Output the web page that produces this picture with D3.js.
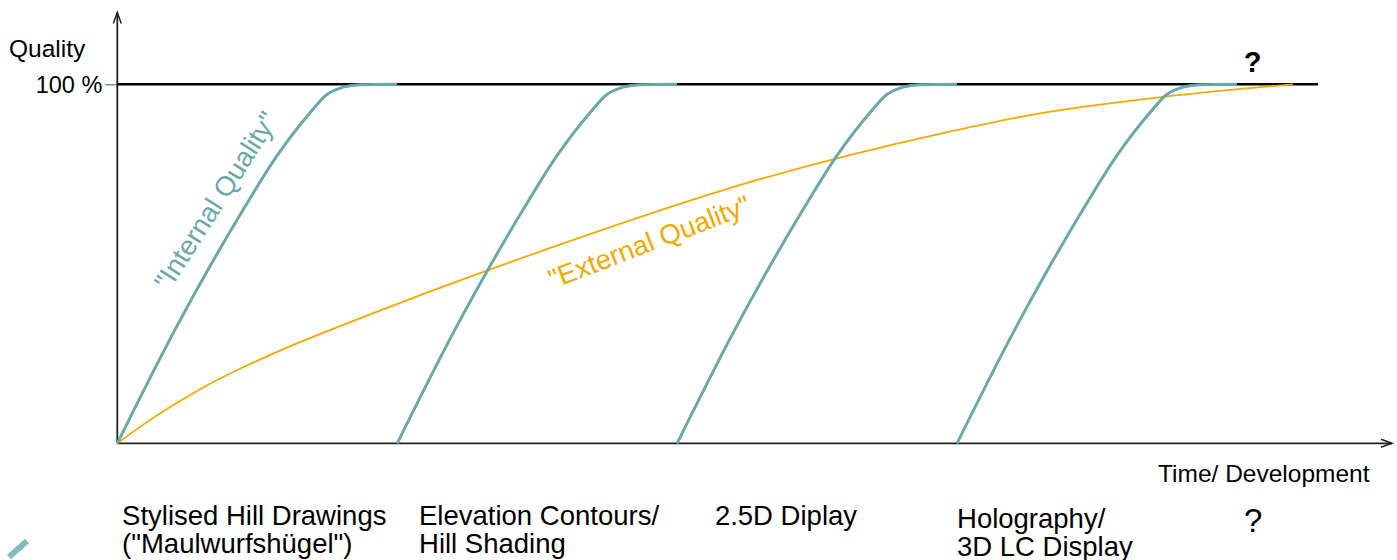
<!DOCTYPE html>
<html>
<head>
<meta charset="utf-8">
<script src="https://cdn.jsdelivr.net/npm/d3@7"></script>
<style>
	body { margin: 0; background: #fff; }
	text { font-family: "Liberation Sans", Arial, sans-serif; }
</style>
</head>
<body>
<div id="chart"></div>
<script>
var width = 1397; // size of the page
var height = 560;

// "internal quality" of each map generation, [time, quality %]
var internal1 = [[0, 0], [0.212, 32.5], [0.331, 49.3], [0.45, 65.1], [0.569, 79.9], [0.688, 92.0], [0.748, 97.1], [0.807, 99.2], [0.867, 99.9], [1.0, 100]];
var internal2 = [[1, 0], [1.212, 32.5], [1.331, 49.3], [1.45, 65.1], [1.569, 79.9], [1.688, 92.0], [1.748, 97.1], [1.807, 99.2], [1.867, 99.9], [2.0, 100]];
var internal3 = [[2, 0], [2.212, 32.5], [2.331, 49.3], [2.45, 65.1], [2.569, 79.9], [2.688, 92.0], [2.748, 97.1], [2.807, 99.2], [2.867, 99.9], [3.0, 100]];
var internal4 = [[3, 0], [3.212, 32.5], [3.331, 49.3], [3.45, 65.1], [3.569, 79.9], [3.688, 92.0], [3.748, 97.1], [3.807, 99.2], [3.867, 99.9], [4.0, 100]];

// "external quality", one slow curve over all generations
var external = [[0, 0], [0.093, 5.2], [0.212, 11.2], [0.331, 16.6], [0.45, 21.2], [0.569, 25.4], [0.688, 29.3], [0.807, 33.0], [0.926, 36.6], [1.111, 42.1], [1.51, 53.4], [2.284, 73.3], [2.938, 86.2], [3.296, 91.9], [3.735, 96.5], [4.2, 100]];

// generation names under the time axis
var generations = ["Stylised Hill Drawings|(\"Maulwurfshügel\")", "Elevation Contours/|Hill Shading", "2.5D Diplay", "Holography/|3D LC Display", "?"];
var generationAt = [0.017, 1.078, 2.135, 3.0, 4.025]; // where each name starts

var yTicks = [100];
var fullLineEnd = 4.29; // end of the 100 % line
var teal = "#69a9a9";
var orange = "#f2aa00";

var svg = d3.select("#chart").append("svg")
	.attr("width", width)
	.attr("height", height);

// scales, one time unit = one generation
var x = d3.scaleLinear().domain([0, 4.554]).range([117.3, 1392]);
var y = d3.scaleLinear().domain([0, 120]).range([443.3, 12.5]);

var line = d3.line()
	.x(d => x(d[0]))
	.y(d => y(d[1]))
	.curve(d3.curveMonotoneX);

// y axis with the single 100 % tick
var yaxis = d3.axisLeft(y).tickValues(yTicks).tickFormat(d => d + " %").tickSize(12).tickPadding(3).tickSizeOuter(0);
var gy = svg.append("g")
	.attr("transform", `translate(${x(0)},0)`)
	.call(yaxis);
gy.select(".domain").remove();
gy.selectAll(".tick line").attr("stroke", "#555").attr("stroke-width", 1);
gy.selectAll(".tick text").attr("font-size", 23.5).attr("fill", "#000").attr("dy", "0.34em")
	.style("font-family", "'Liberation Sans', Arial, sans-serif");

// axis lines with open arrow heads
svg.append("path")
	.attr("d", d3.line()([[x(0), y(0)], [x(0), y(120)]]))
	.attr("stroke", "#222").attr("stroke-width", 1.8).attr("fill", "none");
svg.append("path")
	.attr("d", d3.line()([[x(0) - 4, y(120) + 11], [x(0), y(120)], [x(0) + 4, y(120) + 11]]))
	.attr("stroke", "#222").attr("stroke-width", 1.5).attr("fill", "none");
svg.append("path")
	.attr("d", d3.line()([[x(0), y(0)], [x(4.554), y(0)]]))
	.attr("stroke", "#222").attr("stroke-width", 1.8).attr("fill", "none");
svg.append("path")
	.attr("d", d3.line()([[x(4.554) - 11, y(0) - 4], [x(4.554), y(0)], [x(4.554) - 11, y(0) + 4]]))
	.attr("stroke", "#222").attr("stroke-width", 1.5).attr("fill", "none");

// 100 % line
svg.append("path")
	.attr("d", d3.line()([[x(0), y(100)], [x(fullLineEnd), y(100)]]))
	.attr("stroke", "#000").attr("stroke-width", 2.6);

// curves
svg.append("path")
	.attr("d", line(external))
	.attr("fill", "none").attr("stroke", orange).attr("stroke-width", 1.8);

svg.selectAll(".internal")
	.data([internal1, internal2, internal3, internal4])
	.enter().append("path")
	.attr("class", "internal")
	.attr("d", d => line(d))
	.attr("fill", "none").attr("stroke", teal).attr("stroke-width", 3);

// curve labels
svg.append("text")
	.attr("transform", "translate(169,292) rotate(-57.5)")
	.attr("font-size", 27.5).attr("fill", teal)
	.text("\"Internal Quality\"");
svg.append("text")
	.attr("transform", "translate(553,289) rotate(-21)")
	.attr("font-size", 27.5).attr("fill", orange)
	.text("\"External Quality\"");

// axis titles
svg.append("text").attr("x", 9).attr("y", 57).attr("font-size", 24.5).text("Quality");
svg.append("text").attr("x", 1158).attr("y", 482).attr("font-size", 24.5).text("Time/ Development");
svg.append("text").attr("x", 1252.5).attr("y", 72).attr("font-size", 29).attr("font-weight", "bold")
	.attr("text-anchor", "middle").text("?");

// generation names
var baseY = [525, 525, 525, 528, 532];
var names = svg.selectAll(".gen")
	.data(generations)
	.enter().append("text")
	.attr("class", "gen")
	.attr("font-size", (d, i) => i == 4 ? 33 : 27.5)
	.attr("x", (d, i) => x(generationAt[i]))
	.attr("y", (d, i) => baseY[i]);
names.selectAll("tspan")
	.data(function (d, i) { return d.split("|").map(s => [s, i]); })
	.enter().append("tspan")
	.attr("x", d => x(generationAt[d[1]]))
	.attr("dy", (d, j) => j == 0 ? 0 : 28)
	.text(d => d[0]);

// little teal fragment at the lower left corner
svg.append("path")
	.attr("d", "M9,557 L27,541")
	.attr("stroke", teal).attr("stroke-width", 6).attr("opacity", 0.8);
</script>
</body>
</html>
